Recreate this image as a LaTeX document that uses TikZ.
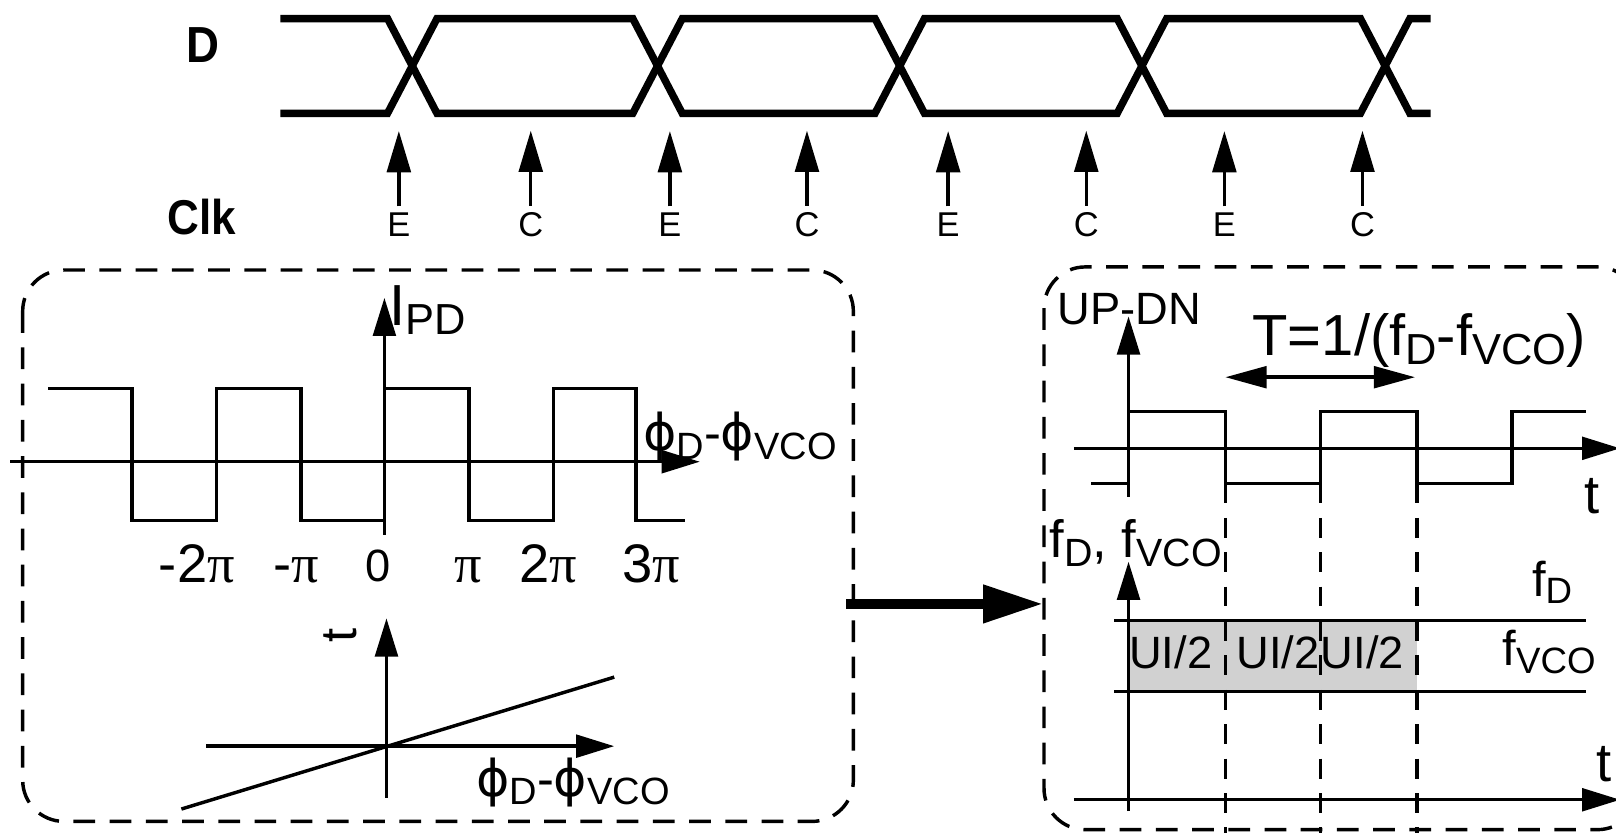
\documentclass[tikz,border=0pt]{standalone}
\usepackage{fontspec}
\setmainfont{Liberation Sans}
\newfontfamily\clkfont[FakeStretch=0.9]{Liberation Sans Bold}
\newfontfamily\grkfont{DejaVu Sans}
\newfontfamily\serifpi{Liberation Serif}
\usepackage{graphicx}
\usetikzlibrary{arrows.meta}
\newcommand{\fsz}[1]{\fontsize{#1}{#1}\selectfont}
\newcommand{\dn}[1]{\raisebox{-0.16em}{\scalebox{0.75}{#1}}}
\newcommand{\phig}{{\grkfont ϕ}}
\newcommand{\pig}{{\serifpi π}}

\begin{document}
\begin{tikzpicture}[x=0.02cm, y=-0.02cm,
  dwave/.style={line width=4.1pt, line join=miter},
  thinl/.style={line width=1.9pt},
  axarr/.style={line width=1.9pt, -{Triangle[length=0.74cm, width=0.44cm]}},
  clkarr/.style={line width=1.9pt, -{Triangle[length=0.8cm, width=0.46cm]}},
  twoarr/.style={line width=1.9pt, {Triangle[length=0.8cm, width=0.42cm]}-{Triangle[length=0.8cm, width=0.42cm]}},
  bigarr/.style={line width=5.5pt, -{Triangle[length=1.16cm, width=0.7cm]}},
  dbox/.style={line width=1.9pt, dash pattern=on 12pt off 8pt, rounded corners=0.8cm},
  vdash/.style={line width=1.9pt, dash pattern=on 11pt off 8pt},
  lbl/.style={inner sep=0pt}]
\path[use as bounding box, clip] (0,0) rectangle (1568,808);

% data eye and clock
\node[lbl, font={\clkfont\fsz{28}}] (dname) at (197,44) {D};
\node[lbl, font={\clkfont\fsz{27}}] (clkname) at (196,211) {Clk};
\draw[dwave] (272,18) -- (376,18) -- (424,110) -- (614,110) -- (662,18) -- (849,18) -- (897,110) -- (1084,110) -- (1132,18) -- (1320,18) -- (1368,110) -- (1388,110);
\draw[dwave] (272,110) -- (376,110) -- (424,18) -- (614,18) -- (662,110) -- (849,110) -- (897,18) -- (1084,18) -- (1132,110) -- (1320,110) -- (1368,18) -- (1388,18);
\foreach \x/\s [count=\i] in {387/E, 515/C, 650/E, 783/C, 920/E, 1054/C, 1188/E, 1322/C} {
  \node[lbl, font=\fsz{19}] (clk\i) at (\x,218) {\s};
  \draw[clkarr] (clk\i.north) ++(0,-6) -- ++(0,-73);
}

% left box
\draw[dbox] (22,262) rectangle (828,797);
\draw[axarr] (10,448) -- (679,448);
\draw[axarr] (373,519) -- (373,289);
\draw[thinl] (47,377) -- (128,377) -- (128,505) -- (210,505) -- (210,377) -- (292,377) -- (292,505) -- (373,505) -- (373,377) -- (455,377) -- (455,505) -- (537,505) -- (537,377) -- (617,377) -- (617,505) -- (665,505);
\node[lbl, font=\fsz{32}] (ipd) at (415,301) {I\dn{PD}};
\node[lbl, font=\fsz{28}] (phiup) at (718,424) {\phig\dn{D}-\phig\dn{VCO}};
\node[lbl, font=\fsz{30}, anchor=base] (tm2) at (191,565) {-2\pig};
\node[lbl, font=\fsz{30}, anchor=base] (tm1) at (287,565) {-\pig};
\node[lbl, font=\fsz{25}, anchor=base] (t0) at (367,564) {0};
\node[lbl, font=\fsz{30}, anchor=base] (tp1) at (454,565) {\pig};
\node[lbl, font=\fsz{30}, anchor=base] (tp2) at (532,565) {2\pig};
\node[lbl, font=\fsz{30}, anchor=base] (tp3) at (632,565) {3\pig};

\draw[axarr] (200,724) -- (596,724);
\draw[axarr] (375,774) -- (375,600);
\draw[thinl] (176,785) -- (596,657);
\node[lbl, font=\fsz{28}, rotate=90] (trot) at (330,617) {t};
\node[lbl, font=\fsz{28}] (philo) at (556,759) {\phig\dn{D}-\phig\dn{VCO}};

% link
\coordinate (lboxe) at (821,586);
\coordinate (rboxw) at (1012,586);
\draw[bigarr] (lboxe) -- (rboxw);

% right box
\draw[dbox] (1013,259) rectangle (1590,805);
\fill[black!18] (1095,602) rectangle (1375,671);
\draw[axarr] (1095,482) -- (1095,307);
\draw[axarr] (1042,435) -- (1572,435);
\draw[thinl] (1059,469) -- (1095,469) -- (1095,399) -- (1189,399) -- (1189,469) -- (1281,469) -- (1281,399) -- (1375,399) -- (1375,469) -- (1467,469) -- (1467,399) -- (1539,399);
\foreach \x in {1189, 1281, 1375}
  \draw[vdash] (\x,469) -- (\x,808);
\draw[twoarr] (1189,366) -- (1373,366);
\node[lbl, font=\fsz{25}] (updn) at (1096,300) {UP-DN};
\node[lbl, font=\fsz{32}] (tper) at (1377,330) {T=1/(f\dn{D}-f\dn{VCO})};
\node[lbl, font=\fsz{30}] (tup) at (1545,481) {t};

\draw[axarr] (1095,787) -- (1095,545);
\draw[axarr] (1042,776) -- (1572,776);
\draw[thinl] (1081,602) -- (1539,602);
\draw[thinl] (1081,671) -- (1539,671);
\node[lbl, font=\fsz{29}] (ffv) at (1102,527) {f\dn{D}, f\dn{VCO}};
\node[lbl, font=\fsz{27}] (fdr) at (1506,565) {f\dn{D}};
\node[lbl, font=\fsz{27}] (fvr) at (1503,633) {f\dn{VCO}};
\foreach \x [count=\i] in {1136, 1240, 1322}
  \node[lbl, font=\fsz{25}] (ui\i) at (\x,633) {UI/2};
\node[lbl, font=\fsz{30}] (tlo) at (1556,741) {t};
\end{tikzpicture}
\end{document}
